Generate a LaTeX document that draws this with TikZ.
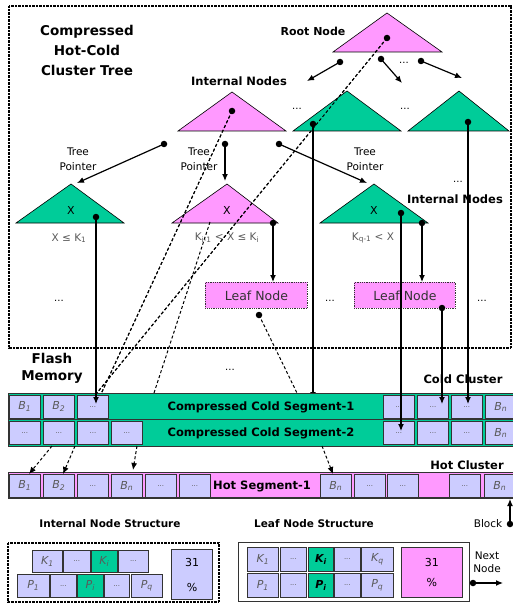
\documentclass[tikz,border=0pt]{standalone}
\usepackage{fontspec}
\setmainfont{DejaVu Sans}
\usetikzlibrary{arrows.meta}
\definecolor{cgreen}{RGB}{0,204,153}
\definecolor{cpink}{RGB}{255,153,255}
\definecolor{clav}{RGB}{204,204,255}
\definecolor{cedge}{RGB}{51,51,51}
\definecolor{cgtxt}{RGB}{90,90,90}
\newcommand\myfs[1]{\fontsize{#1}{#1}\selectfont}
\begin{document}
\begin{tikzpicture}[x=1pt,y=-1pt,
  tri/.style={draw=black, line width=0.6pt},
  dotn/.style={circle, fill=black, inner sep=0pt, minimum size=6.5pt},
  ptr/.style={line width=1.2pt, -{Latex[length=7pt,width=6pt]}},
  plainln/.style={line width=1.2pt},
  dsh/.style={line width=1pt, dash pattern=on 3pt off 2.2pt},
  dsharr/.style={dsh, -{Latex[length=7pt,width=6pt]}},
  blk/.style={draw=cedge, fill=clav, line width=0.7pt, minimum width=31pt, minimum height=23pt, inner sep=0pt, anchor=north west, text=cgtxt, font=\myfs{11}\itshape},
  dots/.style={font=\myfs{7}, text=cgtxt},
  lbl/.style={font=\myfs{11}\bfseries},
  reg/.style={font=\myfs{10.5}},
  ineq/.style={font=\myfs{10.5}, text=cgtxt},
  ell/.style={font=\myfs{10}},
  leafbox/.style={draw=cedge, densely dotted, line width=0.8pt, fill=cpink, minimum width=102pt, minimum height=26pt, anchor=north west, inner sep=0pt, text=cedge, font=\myfs{12.5}},
]
\useasboundingbox (0,0) rectangle (513,604);

% ---------- tree region frame ----------
\draw[line width=1.4pt, dash pattern=on 0.8pt off 0.6pt] (9,6) rectangle (511,348);
\node[align=center, font=\fontsize{13.5}{20}\selectfont\bfseries] (title) at (87,50) {Compressed\\Hot-Cold\\Cluster Tree};

% ---------- pink triangles ----------
\coordinate (rootA) at (387,13);
\draw[tri, fill=cpink] (rootA) -- (442,52) -- (333,52) -- cycle;
\coordinate (intA) at (232,92);
\draw[tri, fill=cpink] (intA) -- (286,131) -- (178,131) -- cycle;
\coordinate (midA) at (227,184);
\draw[tri, fill=cpink] (midA) -- (278,223) -- (172,223) -- cycle;

% ---------- dots ----------
\node[dotn] (dR) at (387,38) {};
\node[dotn] (dI) at (232,111) {};

% ---------- dashed pointers (under green triangles) ----------
\coordinate (cA) at (96,394);
\coordinate (cB) at (101,394);
\coordinate (cC) at (154,393);
\coordinate (cD) at (210,222);
\draw[dsh] (dR.center) -- (cA);
\draw[dsh] (dI.center) -- (cB);
\draw[dsh] (cD) -- (cC);

% ---------- green triangles ----------
\draw[tri, fill=cgreen] (347,91) -- (401,131) -- (293,131) -- cycle;
\draw[tri, fill=cgreen] (459,91) -- (509,131) -- (408,131) -- cycle;
\draw[tri, fill=cgreen] (71,184) -- (124,223) -- (16,223) -- cycle;
\draw[tri, fill=cgreen] (374,184) -- (428,223) -- (320,223) -- cycle;

\node[font=\myfs{11}] (x1) at (71,210) {X};
\node[font=\myfs{11}] (x2) at (227,210) {X};
\node[font=\myfs{11}] (x3) at (374,210) {X};
\node[ineq] (q1) at (69,238) {X ≤ K\textsubscript{1}};
\node[ineq] (q2) at (227,238) {K\textsubscript{i-1} < X ≤ K\textsubscript{i}};
\node[ineq] (q3) at (373,238) {K\textsubscript{q-1} < X};

% ---------- labels ----------
\node[lbl] (lroot) at (313,31) {Root Node};
\node[lbl, font=\myfs{11.5}\bfseries] (lint1) at (239,81) {Internal Nodes};
\node[lbl, font=\myfs{11.5}\bfseries] (lint2) at (455,199) {Internal Nodes};
\node[align=center, font=\fontsize{10.5}{15}\selectfont] (tp1) at (78,159) {Tree\\Pointer};
\node[align=center, font=\fontsize{10.5}{15}\selectfont] (tp2) at (199,159) {Tree\\Pointer};
\node[align=center, font=\fontsize{10.5}{15}\selectfont] (tp3) at (365,159) {Tree\\Pointer};

\node[ell] (e1) at (404,63) {...};
\node[ell] (e2) at (297,109) {...};
\node[ell] (e3) at (405,109) {...};
\node[ell] (e4) at (458,182) {...};
\node[ell] (e5) at (59,301) {...};
\node[ell] (e6) at (330,301) {...};
\node[ell] (e7) at (482,301) {...};
\node[ell] (e8) at (230,370) {...};

% ---------- root & tree pointers ----------
\node[dotn] (dR1) at (340,62) {};
\node[dotn] (dR2) at (381,59) {};
\node[dotn] (dR3) at (421,61) {};
\coordinate (tR1) at (307,81);
\coordinate (tR2) at (402,83);
\coordinate (tR3) at (462,78);
\draw[ptr] (dR1.center) -- (tR1);
\draw[ptr] (dR2.center) -- (tR2);
\draw[ptr] (dR3.center) -- (tR3);

\node[dotn] (dT1) at (164,144) {};
\node[dotn] (dT2) at (225,144) {};
\node[dotn] (dT3) at (279,144) {};
\coordinate (tT1) at (77,183);
\coordinate (tT2) at (225,181);
\coordinate (tT3) at (367,183);
\draw[ptr] (dT1.center) -- (tT1);
\draw[ptr] (dT2.center) -- (tT2);
\draw[ptr] (dT3.center) -- (tT3);

% ---------- long vertical pointers ----------
\node[dotn] (dG2a) at (313,124) {};
\node[dotn] (dG2b) at (468,122) {};
\node[dotn] (dL3) at (96,217) {};
\node[dotn] (dM3) at (273,223) {};
\node[dotn] (dR3a) at (401,213) {};
\node[dotn] (dR3b) at (422,223) {};
\coordinate (tG2a) at (313,399);
\coordinate (tG2b) at (468,404);
\coordinate (tL3) at (96,404);
\coordinate (tR3a) at (401,431);
\draw[ptr] (dG2a.center) -- (tG2a);
\draw[ptr] (dG2b.center) -- (tG2b);
\draw[ptr] (dL3.center) -- (tL3);
\draw[ptr] (dR3a.center) -- (tR3a);

% ---------- leaf nodes ----------
\node[leafbox] (leafL) at (205,282) {Leaf Node};
\node[leafbox, minimum width=101pt] (leafR) at (354,282) {Leaf Node};
\draw[ptr] (dM3.center) -- (dM3 |- leafL.north);
\draw[ptr] (dR3b.center) -- (dR3b |- leafR.north);
\node[dotn] (dLL) at (259,315) {};
\node[dotn] (dLR) at (442,308) {};
\coordinate (tLL) at (297,393);
\coordinate (tLR) at (442,404);
\draw[dsh] (dLL.center) -- (tLL);
\draw[ptr] (dLR.center) -- (tLR);

% ---------- flash memory ----------
\node[align=center, font=\fontsize{13.5}{17}\selectfont\bfseries] (flash) at (52,368) {Flash\\Memory};
\node[lbl, font=\myfs{11.5}\bfseries] (lcold) at (463,379) {Cold Cluster};
\node[lbl, font=\myfs{11.5}\bfseries] (lhot) at (467,465) {Hot Cluster};

% cold rows
\begin{scope}[on background layer/.style={}]
\end{scope}
\draw[fill=cgreen, draw=cedge, line width=0.7pt] (8,393) rectangle (514,419);
\draw[fill=cgreen, draw=cedge, line width=0.7pt] (8,419) rectangle (514,446);
\node[font=\myfs{11.5}\bfseries] (seg1) at (261,407) {Compressed Cold Segment-1};
\node[font=\myfs{11.5}\bfseries] (seg2) at (261,433) {Compressed Cold Segment-2};

\node[blk] (c11) at (9,395) {B\textsubscript{1}};
\node[blk] (c12) at (43,395) {B\textsubscript{2}};
\node[blk, dots] (c13) at (77,395) {...};
\node[blk, dots] (c14) at (383,395) {...};
\node[blk, dots, line width=1.1pt] (c15) at (417,395) {...};
\node[blk, dots] (c16) at (451,395) {...};
\node[blk] (c17) at (485,395) {B\textsubscript{n}};

\node[blk, dots] (c21) at (9,421) {...};
\node[blk, dots] (c22) at (43,421) {...};
\node[blk, dots, line width=1.1pt] (c23) at (77,421) {...};
\node[blk, dots] (c24) at (111,421) {...};
\node[blk, dots] (c25) at (383,421) {...};
\node[blk, dots, line width=1.1pt] (c26) at (417,421) {...};
\node[blk, dots] (c27) at (451,421) {...};
\node[blk] (c28) at (485,421) {B\textsubscript{n}};

% redraw arrow tips over blocks
\draw[ptr] (dL3.center) -- (tL3);
\draw[ptr] (dG2b.center) -- (tG2b);
\draw[ptr] (dLR.center) -- (tLR);
\draw[ptr] (dR3a.center) -- (tR3a);
\draw[dsh] (dR.center) -- (cA);
\draw[dsh] (dI.center) -- (cB);

% hot row
\draw[fill=cpink, draw=cedge, line width=0.7pt] (8,472) rectangle (514,498);
\draw[cedge, line width=1.2pt] (8,498) -- (514,498);
\node[font=\myfs{11.5}\bfseries] (hseg) at (262,486) {Hot Segment-1};
\node[blk] (h1) at (9,474) {B\textsubscript{1}};
\node[blk] (h2) at (43,474) {B\textsubscript{2}};
\node[blk, dots] (h3) at (77,474) {...};
\node[blk] (h4) at (111,474) {B\textsubscript{n}};
\node[blk, dots] (h5) at (145,474) {...};
\node[blk, dots] (h6) at (179,474) {...};
\node[blk] (h7) at (320,474) {B\textsubscript{n}};
\node[blk, dots] (h8) at (354,474) {...};
\node[blk, dots] (h9) at (387,474) {...};
\node[blk, dots] (h10) at (449,474) {...};
\node[blk] (h11) at (484,474) {B\textsubscript{n}};

% cold -> hot dashed arrows
\coordinate (s1) at (52,446); \coordinate (s2) at (75,446);
\coordinate (s3) at (137,446); \coordinate (s4) at (322,446);
\draw[dsharr] (s1) -- (h1.north -| 29,0);
\draw[dsharr] (s2) -- (h2.north -| 63,0);
\draw[dsharr] (s3) -- (133,470);
\draw[dsharr] (s4) -- (h7.north -| 333,0);

% block pointer
\node[reg] (lblock) at (488,524) {Block};
\node[dotn] (dB) at (510,524) {};
\draw[ptr] (dB.center) -- (510,499);

% ---------- node structures ----------
\node[lbl, font=\myfs{10.5}\bfseries] (lins) at (110,524) {Internal Node Structure};
\node[lbl, font=\myfs{10.5}\bfseries] (llns) at (314,524) {Leaf Node Structure};

\draw[line width=1.4pt, dash pattern=on 0.8pt off 0.6pt] (8,543) rectangle (219,602);
\node[blk, minimum width=30pt, minimum height=22pt] (ik1) at (32,550) {K\textsubscript{1}};
\node[blk, dots, minimum width=27pt, minimum height=22pt] (ik2) at (63,550) {...};
\node[blk, fill=cgreen, minimum width=26pt, minimum height=22pt] (ik3) at (91,550) {K\textsubscript{i}};
\node[blk, dots, minimum width=30pt, minimum height=22pt] (ik4) at (118,550) {...};
\node[blk, minimum width=32pt] (ip1) at (17,574) {P\textsubscript{1}};
\node[blk, dots, minimum width=26pt] (ip2) at (50,574) {...};
\node[blk, fill=cgreen, minimum width=26pt] (ip3) at (77,574) {P\textsubscript{i}};
\node[blk, dots, minimum width=25pt] (ip4) at (104,574) {...};
\node[blk, minimum width=31pt] (ip5) at (131,574) {P\textsubscript{q}};
\node[blk, line width=1.3pt, minimum width=41pt, minimum height=50pt, text=black, font=\fontsize{11}{25}\selectfont, align=center] (ipc) at (171,549) {31\\\%};

\draw[cedge, line width=0.8pt] (238,542) rectangle (469,601);
\node[blk, minimum width=31pt, minimum height=24pt] (lk1) at (247,547) {K\textsubscript{1}};
\node[blk, dots, minimum width=26pt, minimum height=24pt] (lk2) at (280,547) {...};
\node[blk, fill=cgreen, text=black, font=\myfs{11}\bfseries\itshape, minimum width=25pt, minimum height=24pt] (lk3) at (308,547) {K\textsubscript{i}};
\node[blk, dots, minimum width=26pt, minimum height=24pt] (lk4) at (334,547) {...};
\node[blk, minimum width=32pt, minimum height=24pt] (lk5) at (361,547) {K\textsubscript{q}};
\node[blk, minimum width=31pt, minimum height=24pt] (lp1) at (247,573) {P\textsubscript{1}};
\node[blk, dots, minimum width=26pt, minimum height=24pt] (lp2) at (280,573) {...};
\node[blk, fill=cgreen, text=black, font=\myfs{11}\bfseries\itshape, minimum width=25pt, minimum height=24pt] (lp3) at (308,573) {P\textsubscript{i}};
\node[blk, dots, minimum width=26pt, minimum height=24pt] (lp4) at (334,573) {...};
\node[blk, minimum width=32pt, minimum height=24pt] (lp5) at (361,573) {P\textsubscript{q}};
\node[blk, fill=cpink, minimum width=61pt, minimum height=50pt, text=black, font=\fontsize{11}{20}\selectfont, align=center] (lpc) at (401,547) {31\\\%};

\node[align=center, font=\fontsize{10.5}{13}\selectfont] (lnext) at (487,562) {Next\\Node};
\node[dotn] (dN) at (473,583) {};
\coordinate (tN) at (503,583);
\draw[ptr] (dN.center) -- (tN);
\end{tikzpicture}
\end{document}
